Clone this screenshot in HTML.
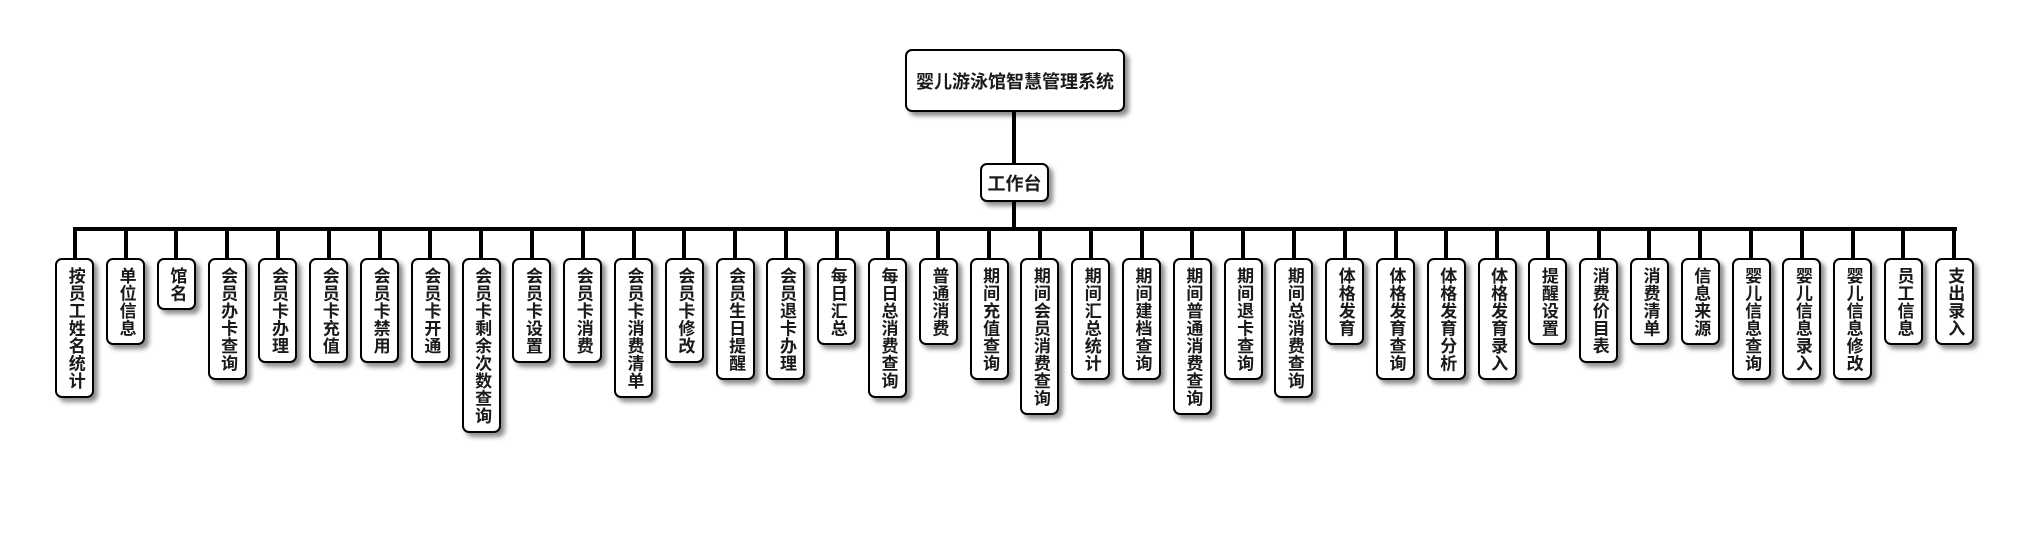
<!DOCTYPE html>
<html><head><meta charset="utf-8">
<style>
html,body{margin:0;padding:0;background:#fff;}
body{width:2030px;height:560px;position:relative;overflow:hidden;font-family:"Liberation Sans","Noto Sans CJK SC",sans-serif;font-weight:bold;color:#1a1a1a;}
.box{position:absolute;background:#fff;border:2px solid #000;border-radius:7px;box-shadow:4px 4px 5px rgba(0,0,0,0.45);box-sizing:border-box;display:flex;align-items:center;justify-content:center;}
.line{position:absolute;background:#000;}
.row{position:absolute;left:49.4px;top:229px;display:flex;}
.it{width:50.8px;display:flex;flex-direction:column;align-items:center;}
.st{width:4px;height:29px;background:#000;}
.n{width:39px;box-sizing:border-box;border:2px solid #000;border-radius:7px;background:#fff;box-shadow:4px 4px 5px rgba(0,0,0,0.45);padding:6.5px 0;display:flex;justify-content:center;}
.n span{writing-mode:vertical-rl;text-orientation:upright;font-size:17px;letter-spacing:0.5px;line-height:20px;}
</style></head><body>
<div class="box" style="left:905px;top:49px;width:220px;height:63px;font-size:18px;">婴儿游泳馆智慧管理系统</div>
<div class="line" style="left:1012px;top:111px;width:4px;height:53px;"></div>
<div class="box" style="left:980px;top:163px;width:69px;height:39px;font-size:18px;">工作台</div>
<div class="line" style="left:1012px;top:201px;width:4px;height:30px;"></div>
<div class="line" style="left:73px;top:227px;width:1884px;height:4px;"></div>
<div class="row">
<div class="it"><div class="st"></div><div class="n"><span>按员工姓名统计</span></div></div>
<div class="it"><div class="st"></div><div class="n"><span>单位信息</span></div></div>
<div class="it"><div class="st"></div><div class="n"><span>馆名</span></div></div>
<div class="it"><div class="st"></div><div class="n"><span>会员办卡查询</span></div></div>
<div class="it"><div class="st"></div><div class="n"><span>会员卡办理</span></div></div>
<div class="it"><div class="st"></div><div class="n"><span>会员卡充值</span></div></div>
<div class="it"><div class="st"></div><div class="n"><span>会员卡禁用</span></div></div>
<div class="it"><div class="st"></div><div class="n"><span>会员卡开通</span></div></div>
<div class="it"><div class="st"></div><div class="n"><span>会员卡剩余次数查询</span></div></div>
<div class="it"><div class="st"></div><div class="n"><span>会员卡设置</span></div></div>
<div class="it"><div class="st"></div><div class="n"><span>会员卡消费</span></div></div>
<div class="it"><div class="st"></div><div class="n"><span>会员卡消费清单</span></div></div>
<div class="it"><div class="st"></div><div class="n"><span>会员卡修改</span></div></div>
<div class="it"><div class="st"></div><div class="n"><span>会员生日提醒</span></div></div>
<div class="it"><div class="st"></div><div class="n"><span>会员退卡办理</span></div></div>
<div class="it"><div class="st"></div><div class="n"><span>每日汇总</span></div></div>
<div class="it"><div class="st"></div><div class="n"><span>每日总消费查询</span></div></div>
<div class="it"><div class="st"></div><div class="n"><span>普通消费</span></div></div>
<div class="it"><div class="st"></div><div class="n"><span>期间充值查询</span></div></div>
<div class="it"><div class="st"></div><div class="n"><span>期间会员消费查询</span></div></div>
<div class="it"><div class="st"></div><div class="n"><span>期间汇总统计</span></div></div>
<div class="it"><div class="st"></div><div class="n"><span>期间建档查询</span></div></div>
<div class="it"><div class="st"></div><div class="n"><span>期间普通消费查询</span></div></div>
<div class="it"><div class="st"></div><div class="n"><span>期间退卡查询</span></div></div>
<div class="it"><div class="st"></div><div class="n"><span>期间总消费查询</span></div></div>
<div class="it"><div class="st"></div><div class="n"><span>体格发育</span></div></div>
<div class="it"><div class="st"></div><div class="n"><span>体格发育查询</span></div></div>
<div class="it"><div class="st"></div><div class="n"><span>体格发育分析</span></div></div>
<div class="it"><div class="st"></div><div class="n"><span>体格发育录入</span></div></div>
<div class="it"><div class="st"></div><div class="n"><span>提醒设置</span></div></div>
<div class="it"><div class="st"></div><div class="n"><span>消费价目表</span></div></div>
<div class="it"><div class="st"></div><div class="n"><span>消费清单</span></div></div>
<div class="it"><div class="st"></div><div class="n"><span>信息来源</span></div></div>
<div class="it"><div class="st"></div><div class="n"><span>婴儿信息查询</span></div></div>
<div class="it"><div class="st"></div><div class="n"><span>婴儿信息录入</span></div></div>
<div class="it"><div class="st"></div><div class="n"><span>婴儿信息修改</span></div></div>
<div class="it"><div class="st"></div><div class="n"><span>员工信息</span></div></div>
<div class="it"><div class="st"></div><div class="n"><span>支出录入</span></div></div>
</div>
</body></html>
